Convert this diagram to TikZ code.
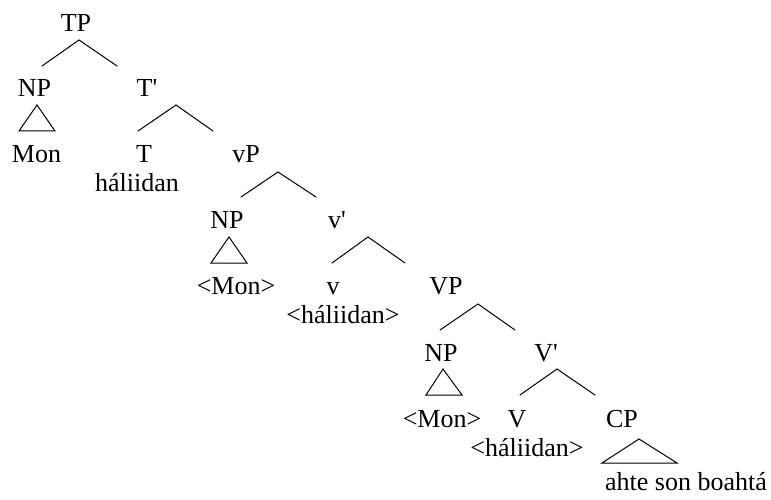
\documentclass[tikz,border=0pt]{standalone}
\usepackage{fontspec}
\newfontfamily\treefont{Liberation Serif}
\begin{document}
\begin{tikzpicture}[x=1pt,y=-1pt,
  lab/.style={anchor=base,inner sep=0pt,font=\treefont\fontsize{26}{30}\selectfont},
  branch/.style={line width=1pt,line cap=round}]
\useasboundingbox (0,0) rectangle (771,500);
% labels
\node[lab] (tp) at (76,32) {TP};
\node[lab] (np1) at (34.5,97) {NP};
\node[lab] (tbar) at (147,97) {T'};
\node[lab] (mon1) at (36.5,162) {Mon};
\node[lab] (t) at (144,162) {T};
\node[lab] (hal1) at (137,191) {háliidan};
\node[lab] (vp) at (246,162) {vP};
\node[lab] (np2) at (227,228) {NP};
\node[lab] (vbar) at (337,228) {v'};
\node[lab] (mon2) at (236,294) {<Mon>};
\node[lab] (v) at (333,294) {v};
\node[lab] (hal2) at (343,323) {<háliidan>};
\node[lab] (bigvp) at (446,294) {VP};
\node[lab] (np3) at (441,361) {NP};
\node[lab] (bigvbar) at (546,361) {V'};
\node[lab] (mon3) at (442,427) {<Mon>};
\node[lab] (bigv) at (517,427) {V};
\node[lab] (hal3) at (527,456) {<háliidan>};
\node[lab] (cp) at (622,427) {CP};
\node[lab] (ahte) at (686,490) {ahte son boahtá};
% branch points
\coordinate (tpA) at (79,40);  \coordinate (tpL) at (42,66);  \coordinate (tpR) at (117,66);
\coordinate (tbA) at (176,105); \coordinate (tbL) at (138,131); \coordinate (tbR) at (213,131);
\coordinate (vpA) at (278,172); \coordinate (vpL) at (241,197); \coordinate (vpR) at (316,197);
\coordinate (vbA) at (368,237); \coordinate (vbL) at (332,263); \coordinate (vbR) at (405,263);
\coordinate (VPA) at (478,304); \coordinate (VPL) at (440,330); \coordinate (VPR) at (515,330);
\coordinate (VbA) at (557,369); \coordinate (VbL) at (520,395); \coordinate (VbR) at (595,395);
\draw[branch] (tpL) -- (tpA) -- (tpR);
\draw[branch] (tbL) -- (tbA) -- (tbR);
\draw[branch] (vpL) -- (vpA) -- (vpR);
\draw[branch] (vbL) -- (vbA) -- (vbR);
\draw[branch] (VPL) -- (VPA) -- (VPR);
\draw[branch] (VbL) -- (VbA) -- (VbR);
% triangles
\coordinate (n1A) at (37,105);  \coordinate (n1L) at (19,131);  \coordinate (n1R) at (55,131);
\coordinate (n2A) at (229,237); \coordinate (n2L) at (211,263); \coordinate (n2R) at (247,263);
\coordinate (n3A) at (443,369); \coordinate (n3L) at (426,395); \coordinate (n3R) at (462,395);
\coordinate (cpA) at (639,439); \coordinate (cpL) at (602,463); \coordinate (cpR) at (677,463);
\draw[branch] (n1A) -- (n1L) -- (n1R) -- cycle;
\draw[branch] (n2A) -- (n2L) -- (n2R) -- cycle;
\draw[branch] (n3A) -- (n3L) -- (n3R) -- cycle;
\draw[branch] (cpA) -- (cpL) -- (cpR) -- cycle;
\end{tikzpicture}
\end{document}
